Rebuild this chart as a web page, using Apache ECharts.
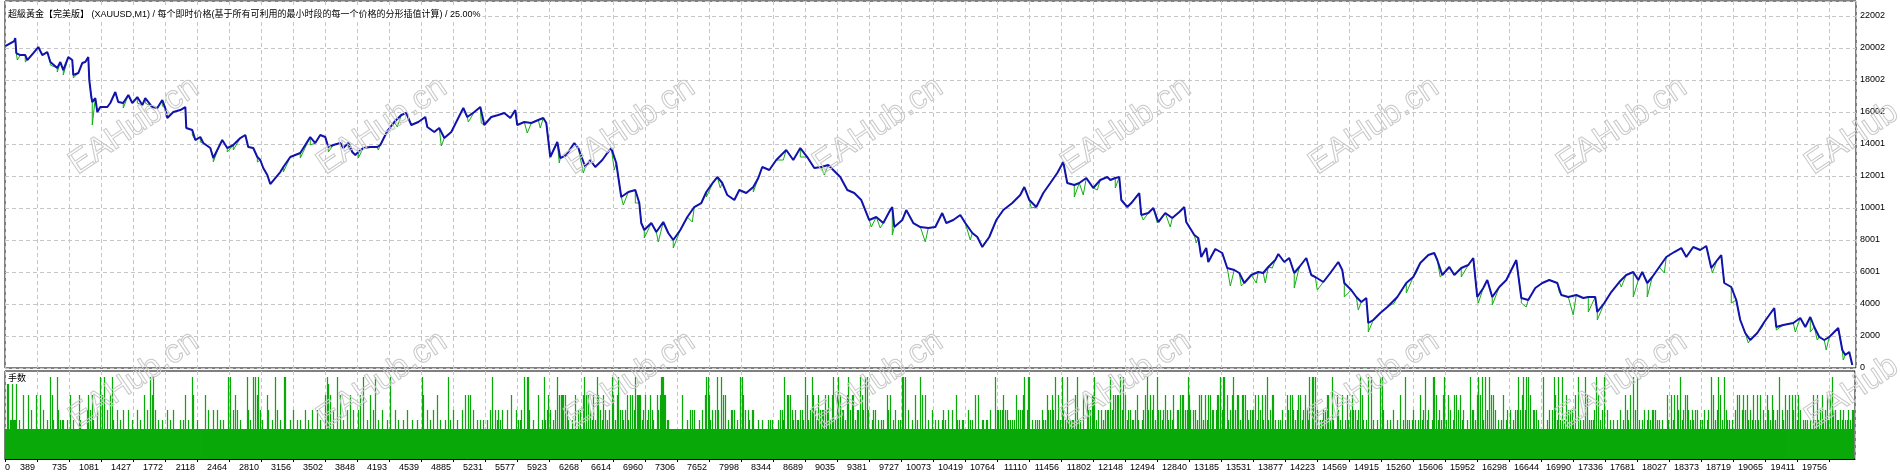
<!DOCTYPE html>
<html><head><meta charset="utf-8">
<script src="https://cdn.jsdelivr.net/npm/echarts/dist/echarts.min.js"></script>
<style>html,body{margin:0;padding:0;background:#fff;}#c{width:1900px;height:476px;}</style>
</head><body><div id="c"></div>
<script>
const titleText = '超級黃金【完美版】 (XAUUSD,M1) / 每个即时价格(基于所有可利用的最小时段的每一个价格的分形插值计算) / 25.00%';
const lotPanelLabel = '手数';
const watermarkText = 'EAHub.cn';

const xTickLabels = ['0','389','735','1081','1427','1772','2118','2464','2810','3156','3502','3848','4193','4539','4885','5231','5577','5923','6268','6614','6960','7306','7652','7998','8344','8689','9035','9381','9727','10073','10419','10764','11110','11456','11802','12148','12494','12840','13185','13531','13877','14223','14569','14915','15260','15606','15952','16298','16644','16990','17336','17681','18027','18373','18719','19065','19411','19756'];
const yTickLabels = ['0','2000','4000','6001','8001','10001','12001','14001','16002','18002','20002','22002'];
const X_STEP = 345.82;   // trades between x ticks
const Y_STEP = 2000.2;   // balance between y ticks

// balance (blue) : [trade number, balance]
const balance = [[3,20125],[100,20438],[111,20625],[122,19688],[165,19563],[219,19563],[241,19250],[306,19688],[360,20063],[403,19563],[457,19750],[490,19125],[565,18750],[598,19125],[630,18625],[684,19438],[727,19250],[738,18313],[792,18438],[835,19063],[868,19125],[900,19438],[911,18000],[933,16938],[943,16625],[976,16875],[998,16000],[1030,16313],[1106,16313],[1138,16563],[1192,17250],[1224,16625],[1278,16563],[1333,17063],[1376,16563],[1430,16938],[1484,16438],[1516,16875],[1592,16313],[1646,16250],[1700,16750],[1732,16250],[1754,15625],[1819,16000],[1894,16125],[1949,16313],[1959,15000],[2024,14875],[2057,14250],[2111,14438],[2143,14063],[2219,13750],[2251,13125],[2305,13750],[2348,14250],[2402,13750],[2467,13938],[2543,14375],[2597,14563],[2629,13813],[2683,13750],[2727,13188],[2759,13000],[2791,12500],[2835,12063],[2867,11500],[2921,11875],[2975,12250],[3008,12563],[3083,13188],[3191,13438],[3299,14438],[3353,14063],[3407,14563],[3461,14438],[3494,13813],[3548,13938],[3624,14063],[3656,13750],[3710,14063],[3753,13500],[3786,13313],[3818,13500],[3872,13750],[3948,13813],[4023,13813],[4056,13938],[4132,14813],[4207,15375],[4283,15813],[4337,15938],[4391,15188],[4467,15375],[4542,15688],[4564,15063],[4639,14750],[4693,15000],[4748,14375],[4823,14750],[4877,15375],[4953,16250],[4996,15688],[5072,16000],[5137,16313],[5180,15188],[5255,15688],[5331,15813],[5396,15938],[5461,15625],[5515,16125],[5536,15188],[5612,15375],[5688,15313],[5763,15500],[5817,15625],[5850,15313],[5893,13188],[5969,14125],[6001,13125],[6066,13313],[6152,14063],[6196,13750],[6271,12563],[6325,13000],[6379,12563],[6455,13000],[6509,13438],[6552,13750],[6606,12813],[6628,11938],[6660,10688],[6736,11000],[6812,11125],[6855,10313],[6876,9063],[6909,8625],[6985,9063],[7039,8500],[7114,9125],[7168,8438],[7222,8000],[7298,8625],[7374,9438],[7449,10063],[7525,10313],[7579,11000],[7655,11625],[7698,11938],[7752,11563],[7806,10813],[7882,10500],[7936,11125],[8011,10938],[8087,11313],[8141,11875],[8184,12563],[8260,12375],[8335,13000],[8443,13625],[8519,13000],[8595,13750],[8670,13188],[8746,12500],[8822,12563],[8897,12688],[8951,12375],[9027,11938],[9103,11125],[9178,10938],[9254,10500],[9340,9250],[9416,9438],[9492,9063],[9567,9875],[9589,10063],[9611,8813],[9697,9250],[9740,9875],[9816,9063],[9892,8813],[9978,8750],[10054,8813],[10129,9688],[10173,9063],[10248,9250],[10324,9563],[10378,9063],[10454,8438],[10508,8188],[10562,7563],[10637,8188],[10713,9250],[10789,9875],[10886,10313],[10972,10813],[11016,11313],[11070,10500],[11145,10063],[11221,10938],[11297,11563],[11372,12188],[11437,12875],[11480,11563],[11556,11438],[11610,11563],[11686,11875],[11761,11250],[11837,11750],[11913,11938],[11945,11750],[11999,11875],[12042,11938],[12064,10500],[12129,10063],[12172,10313],[12258,10938],[12280,9563],[12356,9688],[12410,10000],[12464,9125],[12539,9688],[12615,9375],[12691,9750],[12745,10063],[12766,9125],[12853,8313],[12896,8125],[12928,6938],[12982,7500],[13004,6625],[13080,7438],[13155,7188],[13209,6250],[13285,6125],[13339,5938],[13393,5313],[13469,5813],[13544,6000],[13598,5938],[13652,6313],[13728,6750],[13761,7125],[13825,6625],[13879,6875],[13933,5938],[13988,6313],[14063,6875],[14117,5813],[14160,5688],[14247,5375],[14323,5938],[14409,6625],[14452,6125],[14474,5313],[14549,4875],[14604,4438],[14658,4125],[14712,4375],[14733,2813],[14787,3000],[14863,3438],[14939,3813],[15047,4438],[15144,5313],[15219,5688],[15295,6563],[15382,7063],[15446,7188],[15479,6750],[15533,5813],[15609,6313],[15663,5813],[15738,6250],[15814,6438],[15868,6875],[15911,4438],[15976,5000],[16019,5500],[16073,4438],[16149,5063],[16225,5500],[16333,6750],[16387,4375],[16462,4250],[16538,5000],[16614,5313],[16689,5500],[16776,5313],[16819,4563],[16895,4438],[16981,4563],[17057,4375],[17111,4438],[17186,4438],[17208,3500],[17284,4063],[17359,4750],[17446,5375],[17521,5813],[17597,6000],[17651,5500],[17694,6000],[17748,5313],[17802,5688],[17878,6313],[17954,6938],[18040,7250],[18116,7500],[18170,6938],[18245,7563],[18321,7375],[18386,7625],[18440,6250],[18505,6750],[18548,7063],[18580,5313],[18656,5063],[18710,4250],[18753,3000],[18807,2188],[18861,1750],[18937,2188],[19013,2875],[19121,3750],[19142,2563],[19218,2688],[19326,2813],[19402,3125],[19456,2563],[19510,3188],[19553,2563],[19607,1938],[19661,1750],[19715,1938],[19812,2500],[19856,1125],[19888,813],[19931,1000],[19964,188]];

// equity (green) lows that dip below the balance line : [trade number, equity]
const equityDips = [[133,19250],[219,19125],[490,18938],[565,18500],[630,18313],[738,18125],[943,15188],[1278,16250],[1430,16563],[1516,16563],[1700,16375],[2024,14563],[2111,14125],[2251,12875],[2402,13500],[2467,13625],[2727,12875],[3008,12250],[3191,13125],[3299,13938],[3494,13500],[3710,13750],[3818,13125],[4034,13625],[4240,15063],[4715,13875],[5007,15375],[5147,15313],[5644,14688],[5785,15000],[5990,12813],[6250,12188],[6585,12375],[6682,10188],[6812,10313],[6909,8125],[7060,7875],[7222,7500],[7428,9125],[7579,10688],[7730,11250],[7882,10375],[8087,11000],[8411,13000],[8595,13188],[8854,12063],[9362,8813],[9459,8750],[9589,8313],[9946,7875],[10432,8000],[10583,7813],[11091,10000],[11556,10688],[11653,10813],[11804,11125],[11999,11250],[12301,9250],[12453,9063],[12593,8813],[12874,7813],[12928,6875],[13242,5125],[13361,5125],[13523,5313],[13620,5313],[13696,6250],[13933,5000],[14182,4875],[14474,4438],[14625,3625],[14733,2250],[15014,4063],[15144,4688],[15252,5938],[15511,5688],[15738,5688],[15922,4063],[16073,3938],[16387,4063],[16440,3813],[16797,4750],[16948,3313],[17111,3500],[17208,3000],[17467,5063],[17597,4438],[17748,4438],[17932,5938],[18191,6875],[18451,5938],[18656,4063],[18840,1563],[18991,2563],[19142,2375],[19348,2250],[19510,2250],[19585,1750],[19682,1125],[19866,500]];

// lots: each character = lot level of one consecutive block of trades
const LOT_BUCKET = 10.807;  // trades per block
const lotLevels = [0.30, 0.39, 0.49, 0.64, 0.75, 0.82];
const lotCodes = [
"0044011411","1400100030","0003002000","0300030020","0010050310",
"0052010110","0010030010","0000310000","0023020310","0020050305",
"0020030510","0020010020","0002000100","0020010003","0020050350",
"2001000100","0020010020","0000010010","3001000530","0010000000",
"3002000020","0020010010","0005050020","3020010000","0052010050",
"5035020100","0032000100","5020010005","5000010020","0010010000",
"2001000200","0020010000","3054030020","0050030010","0020030020",
"0002030050","0010030020","5001000200","0010050000","2001000010",
"0020000100","0010000530","0020010020","0030010000","1005010020",
"0010000200","3003030020","0010010010","0010020500","2012010200",
"0020003000","0201012005","0055200010","0003000105","1023020010",
"2050303330","3021000100","3002020035","0303020130","1053020130",
"2010200530","1035020210","2031030302","5033330120","3012030210",
"0032035553","3011000000","0000000300","0010020202","0000100200",
"3505310200","2052005030","3001002202","0010050530","2002100220",
"0001000100","0001010100","0001020215","0033030210","2011020210",
"5031020530","2013020220","3023010350","1035030220","1035020330",
"1022050320","5052000120","2001001010","0032030010","2001010550",
"5002000100","3010050300","3001000200","1001000120","1002000200",
"0310100110","0002010100","3003000110","0110020000","5022020230",
"2021010101","0302020235","0025500100","1010100210","1032020320",
"5013010520","1051010110","3051010030","0032020335","0102002010",
"2022050230","3033050250","3012020110","2031000120","3052030230",
"1052020120","3021020130","0022030330","2025320020","2010303010",
"3013030220","0233050255","0031020350","2033010330","3021020220",
"3013020310","3051020330","1001010200","1032030320","1023030120",
"3021500550","5020010120","2033010510","0032010300","1031020320",
"2012050310","0105005010","0010050520","0010010020","0010030010",
"5010100120","1001030120","5012000155","0301201035","0103020013",
"0302030120","0010050220","1035030510","5020503030","2001001030",
"0120020010","2025020350","2505030022","0201000050","0010200205",
"3015010501","0302020210","3005010010","5030101012","0503010205",
"0020010010","0010020010","3021030050","2050100102","0012010220",
"2010100100","0031003013","0032050120","3032010210","2020010102",
"0012005030","1025030105","0210100100","2030300230","2031020130",
"1031030020","1032010320","1020500210","3020300320","3013020010",
"1010010030","1031020310","2031030520","2011020120","101201022"
].join('');

// ---- build series data ----
const equity = balance.map(p => [p[0], p[1], 0])
  .concat(equityDips.map(p => [p[0], p[1], 1]))
  .sort((a, b) => a[0] - b[0] || a[2] - b[2])
  .map(p => [p[0], p[1]]);
const lots = Array.from(lotCodes).map((c, i) => [(i + 0.5) * LOT_BUCKET, lotLevels[+c]]);

const FONT = '"Liberation Sans", "Noto Sans CJK SC", sans-serif';
const dashed = { show: true, lineStyle: { color: '#c6c6c6', width: 1, type: [4, 3] } };

const chart = echarts.init(document.getElementById('c'));

// watermark layout
const WM_X0 = 134, WM_DX = 248, WM_ROWS = [126, 380], WM_COUNT = 8;
const watermarks = [];
WM_ROWS.forEach(y => {
  for (let k = 0; k < WM_COUNT; k++) {
    watermarks.push({
      type: 'text', x: WM_X0 + k * WM_DX, y: y, rotation: 34 * Math.PI / 180,
      silent: true, z: 50,
      style: { text: watermarkText, fontSize: 33, fontFamily: 'Liberation Sans', fill: 'rgba(255,255,255,0)',
               stroke: '#c8c8c8', lineWidth: 1, align: 'center', verticalAlign: 'middle' }
    });
  }
});

chart.setOption({
  animation: false,
  backgroundColor: '#ffffff',
  grid: [
    { left: 5, right: 44, top: 1, height: 367, show: true, borderColor: '#000', borderWidth: 1, containLabel: false, outerBoundsMode: 'none' },
    { left: 5, right: 45, top: 371, height: 88, show: true, borderColor: '#000', borderWidth: 1, containLabel: false, outerBoundsMode: 'none' }
  ],
  xAxis: [
    { type: 'value', gridIndex: 0, min: 0, max: 20004, interval: X_STEP,
      axisLine: { show: false }, axisTick: { show: false }, axisLabel: { show: false }, splitLine: dashed },
    { type: 'value', gridIndex: 1, min: 0, max: 19993, interval: X_STEP,
      axisLine: { show: true, onZero: false, lineStyle: { color: '#000', width: 1 } },
      axisTick: { show: true, length: 3, lineStyle: { color: '#000' } },
      axisLabel: { show: true, color: '#000', fontFamily: FONT, fontSize: 9, margin: 4, align: 'right',
                   padding: [0, 2, 0, 0], alignMinLabel: 'left', showMinLabel: true, showMaxLabel: false,
                   formatter: v => { const s = xTickLabels[Math.round(v / X_STEP)]; return s === undefined ? '' : s; } },
      splitLine: dashed }
  ],
  yAxis: [
    { type: 'value', gridIndex: 0, position: 'right', min: 0, max: 22940, interval: Y_STEP,
      axisLine: { show: false }, axisTick: { show: false },
      axisLabel: { color: '#000', fontFamily: FONT, fontSize: 9, margin: 4, showMaxLabel: false,
                   formatter: v => { const s = yTickLabels[Math.round(v / Y_STEP)]; return s === undefined ? '' : s; } },
      splitLine: dashed },
    { type: 'value', gridIndex: 1, min: 0, max: 0.88, show: false, splitLine: { show: false } }
  ],
  series: [
    { name: 'equity', type: 'line', xAxisIndex: 0, yAxisIndex: 0, data: equity, showSymbol: false, symbol: 'none',
      lineStyle: { color: '#14ae14', width: 1 }, z: 3 },
    { name: 'balance', type: 'line', xAxisIndex: 0, yAxisIndex: 0, data: balance, showSymbol: false, symbol: 'none',
      lineStyle: { color: '#1212ac', width: 2 }, z: 4 },
    { name: 'lots', type: 'bar', xAxisIndex: 1, yAxisIndex: 1, data: lots, barWidth: 1.25,
      itemStyle: { color: '#09a909' }, z: 3 }
  ],
  graphic: [
    { type: 'text', left: 6, top: 8, z: 60, silent: true,
      style: { text: titleText, fontSize: 9, fontFamily: FONT, fill: '#000', backgroundColor: '#fff', padding: [2, 2] } },
    { type: 'text', left: 8, top: 374, z: 60, silent: true,
      style: { text: lotPanelLabel, fontSize: 9, fontFamily: FONT, fill: '#000' } }
  ].concat(watermarks)
});
</script>
</body></html>
